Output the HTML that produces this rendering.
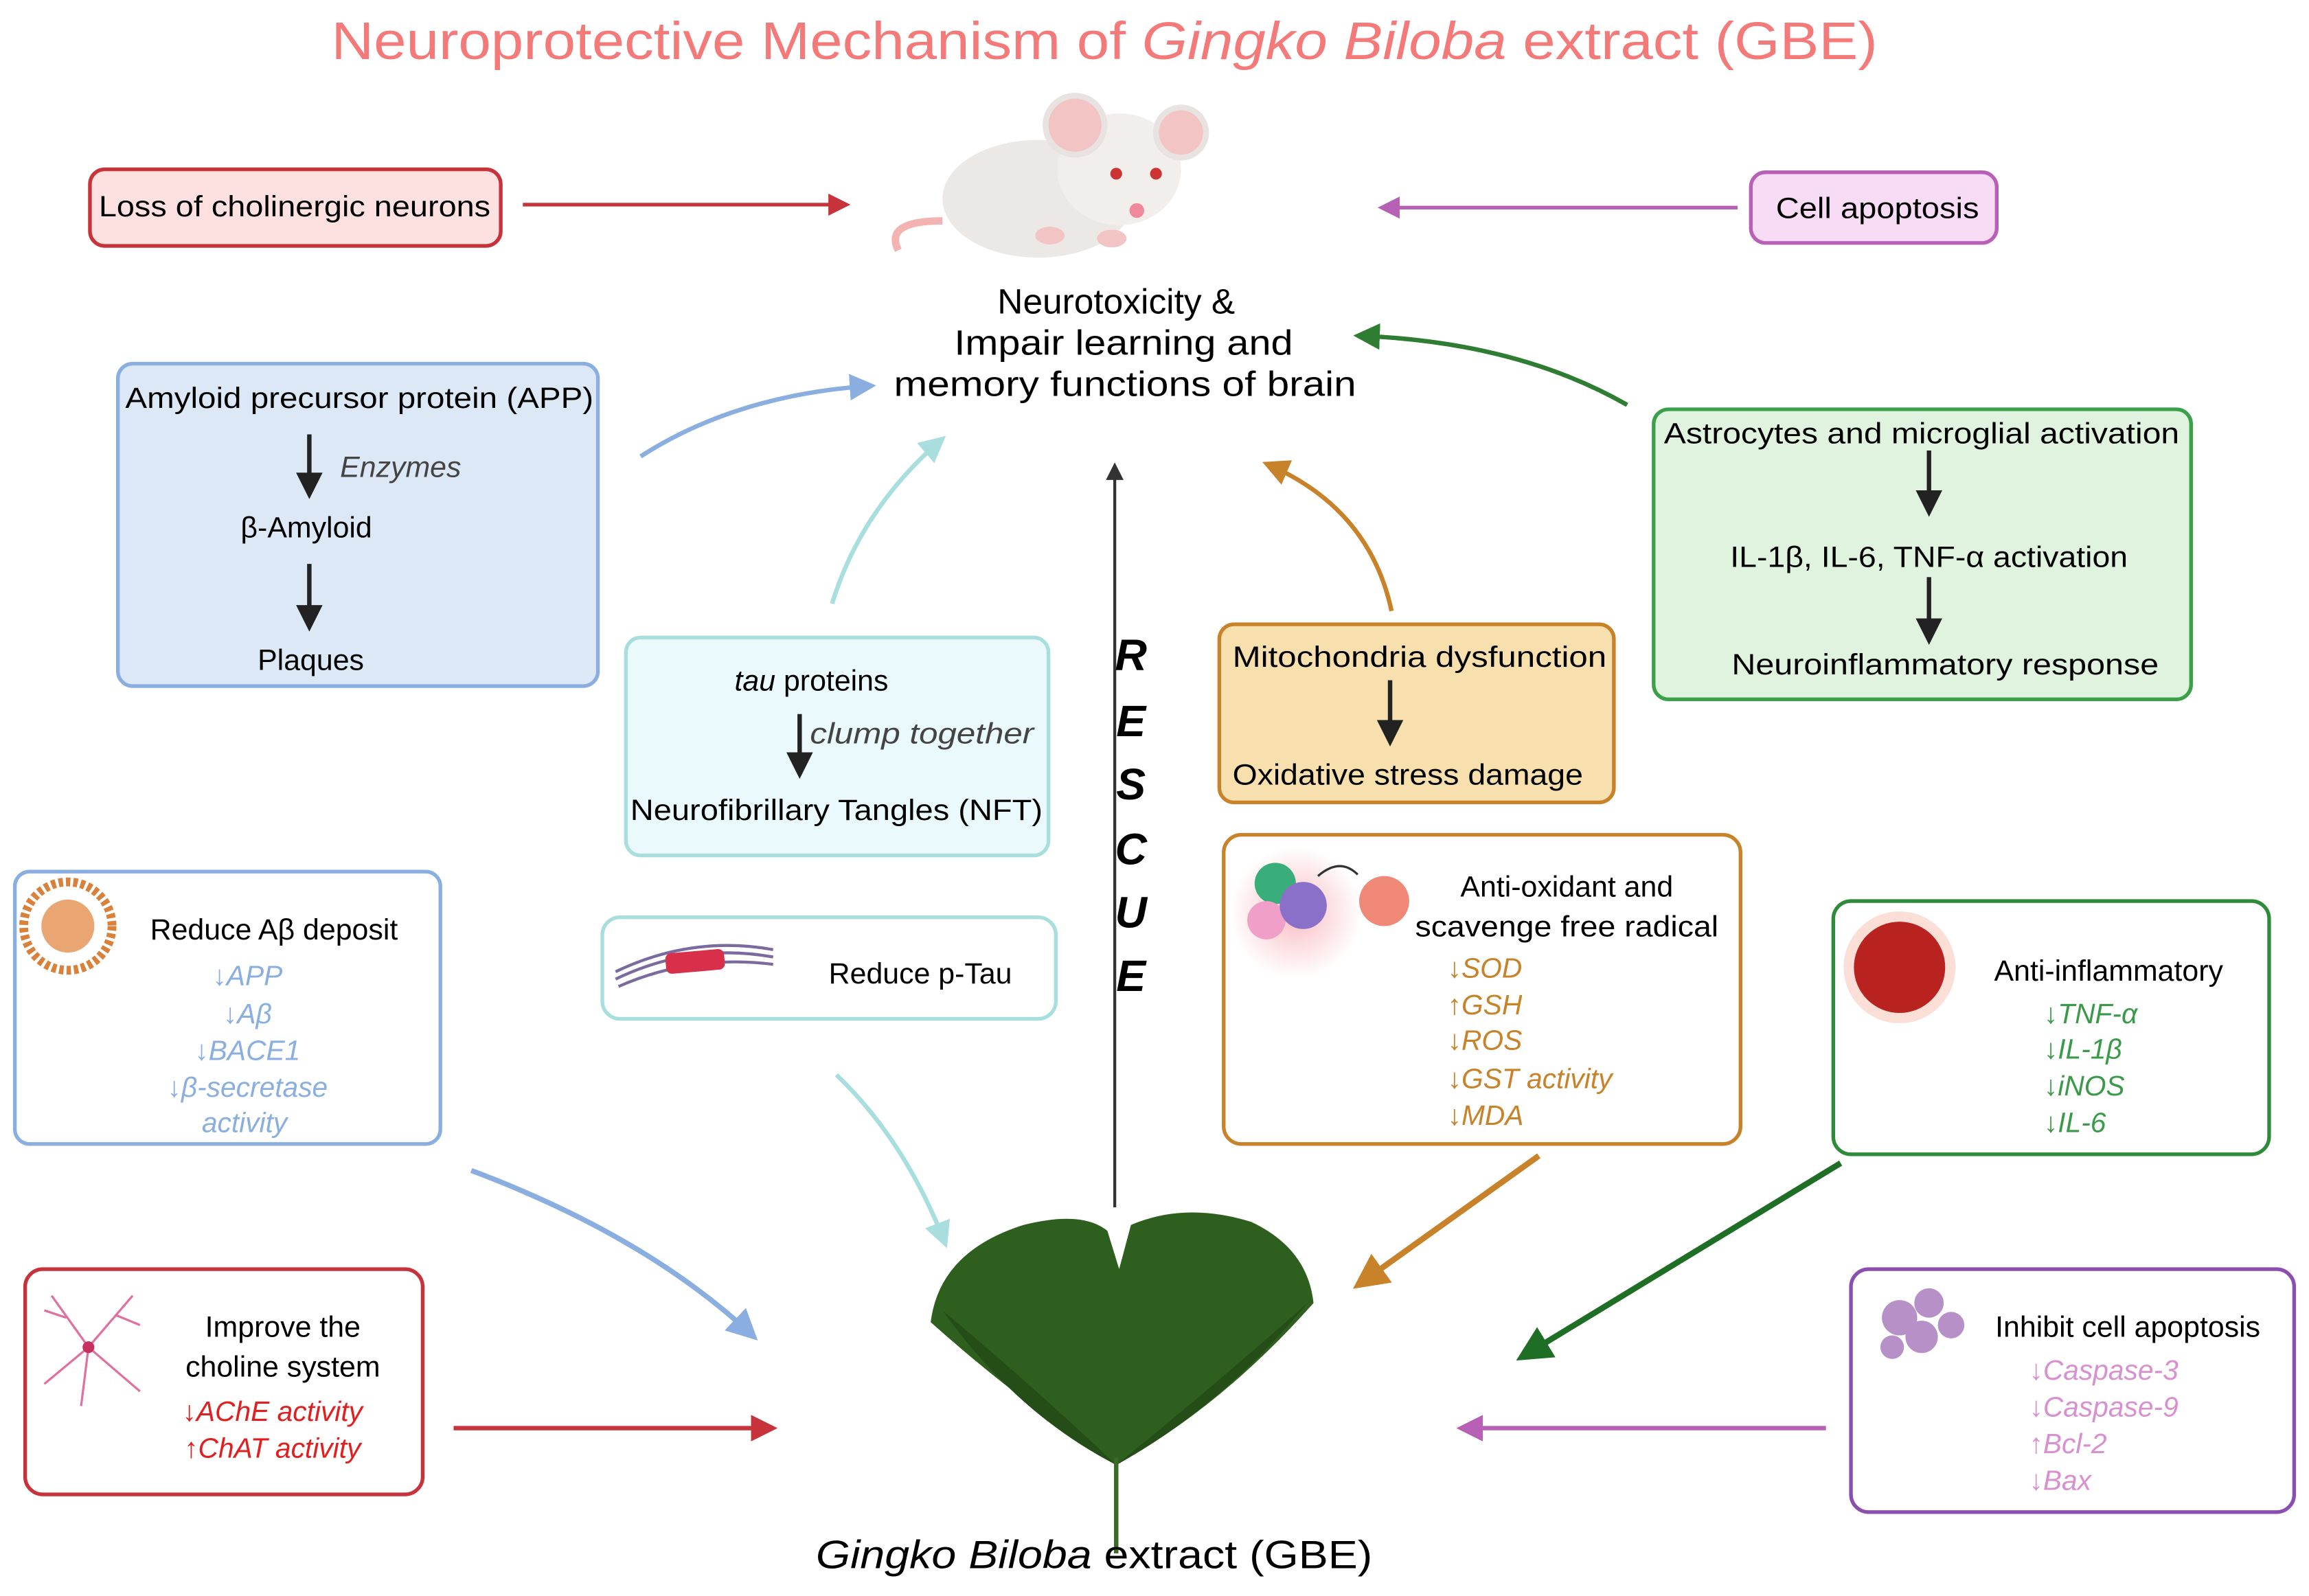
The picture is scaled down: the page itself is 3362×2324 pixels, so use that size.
<!DOCTYPE html>
<html><head><meta charset="utf-8"><style>
html,body{margin:0;padding:0;background:#fff}
svg{display:block}
text{font-family:"Liberation Sans",sans-serif}
</style></head><body>
<svg width="3362" height="2324" viewBox="0 0 1568 1084" xmlns="http://www.w3.org/2000/svg">
<defs>
<marker id="ar" markerWidth="6" markerHeight="6" refX="5" refY="3" orient="auto" markerUnits="strokeWidth"><path d="M0,0 L6,3 L0,6 z" fill="context-stroke"/></marker>
<radialGradient id="glow"><stop offset="0" stop-color="#f7a0a8" stop-opacity=".7"/><stop offset="1" stop-color="#f7a0a8" stop-opacity="0"/></radialGradient>
</defs>
<text x="750" y="40" text-anchor="middle" font-size="36" fill="#f47a7a" textLength="1050" lengthAdjust="spacingAndGlyphs">Neuroprotective Mechanism of <tspan font-style="italic">Gingko Biloba</tspan> extract (GBE)</text>

<!-- mouse -->
<g>
<path d="M610,170 Q600,150 640,150" stroke="#f3b3b3" stroke-width="5" fill="none"/>
<ellipse cx="705" cy="135" rx="65" ry="40" fill="#ece8e6"/>
<ellipse cx="760" cy="115" rx="42" ry="38" fill="#f1eeec"/>
<circle cx="730" cy="85" r="20" fill="#f2c4c4" stroke="#e8e2e0" stroke-width="4"/>
<circle cx="802" cy="90" r="17" fill="#f2c4c4" stroke="#e8e2e0" stroke-width="4"/>
<circle cx="758" cy="118" r="4" fill="#c33"/><circle cx="785" cy="118" r="4" fill="#c33"/>
<circle cx="772" cy="143" r="5" fill="#f08a9a"/>
<ellipse cx="713" cy="160" rx="10" ry="6" fill="#f2c4c4"/><ellipse cx="755" cy="162" rx="10" ry="6" fill="#f2c4c4"/>
</g>

<!-- top boxes -->
<rect x="61" y="115" width="279" height="52" rx="10" fill="#fde0e0" stroke="#c8323a" stroke-width="2.5"/>
<text x="200" y="147" text-anchor="middle" font-size="20" textLength="266" lengthAdjust="spacingAndGlyphs">Loss of cholinergic neurons</text>
<line x1="355" y1="139" x2="575" y2="139" stroke="#c8323a" stroke-width="2.5" marker-end="url(#ar)"/>
<rect x="1189" y="117" width="167" height="48" rx="10" fill="#f8dcf5" stroke="#b860b5" stroke-width="2.5"/>
<text x="1275" y="148" text-anchor="middle" font-size="20" textLength="138" lengthAdjust="spacingAndGlyphs">Cell apoptosis</text>
<line x1="1180" y1="141" x2="938" y2="141" stroke="#b860b5" stroke-width="2.5" marker-end="url(#ar)"/>

<g font-size="24" text-anchor="middle">
<text x="758" y="213">Neurotoxicity &amp;</text>
<text x="763" y="241" textLength="230" lengthAdjust="spacingAndGlyphs">Impair learning and</text>
<text x="764" y="269" textLength="314" lengthAdjust="spacingAndGlyphs">memory functions of brain</text>
</g>

<!-- APP box -->
<rect x="80" y="247" width="326" height="219" rx="10" fill="#dde8f7" stroke="#8aaee0" stroke-width="2.5"/>
<g font-size="20" text-anchor="middle">
<text x="244" y="277" textLength="318" lengthAdjust="spacingAndGlyphs">Amyloid precursor protein (APP)</text>
<text x="272" y="324" font-style="italic" fill="#444">Enzymes</text>
<text x="208" y="365">β-Amyloid</text>
<text x="211" y="455">Plaques</text>
</g>
<line x1="210" y1="295" x2="210" y2="336" stroke="#222" stroke-width="3" marker-end="url(#ar)"/>
<line x1="210" y1="383" x2="210" y2="426" stroke="#222" stroke-width="3" marker-end="url(#ar)"/>

<!-- arrows to center -->
<path d="M435,310 Q500,268 592,262" stroke="#8aaee0" stroke-width="3" fill="none" marker-end="url(#ar)"/>
<path d="M565,410 Q585,345 640,298" stroke="#a8dede" stroke-width="3" fill="none" marker-end="url(#ar)"/>
<line x1="757" y1="820" x2="757" y2="316" stroke="#333" stroke-width="2" marker-end="url(#ar)"/>
<path d="M945,415 Q930,345 860,315" stroke="#c8822a" stroke-width="3" fill="none" marker-end="url(#ar)"/>
<path d="M1105,275 Q1030,232 922,228" stroke="#2e7d32" stroke-width="3" fill="none" marker-end="url(#ar)"/>

<g font-size="30" font-weight="bold" font-style="italic" text-anchor="middle">
<text x="768" y="455">R</text><text x="768" y="500">E</text><text x="768" y="543">S</text>
<text x="768" y="587">C</text><text x="768" y="630">U</text><text x="768" y="673">E</text>
</g>

<!-- green box -->
<rect x="1123" y="278" width="365" height="197" rx="10" fill="#dff3df" stroke="#3aa14a" stroke-width="2.5"/>
<g font-size="20" text-anchor="middle">
<text x="1305" y="301" textLength="350" lengthAdjust="spacingAndGlyphs">Astrocytes and microglial activation</text>
<text x="1310" y="385" textLength="270" lengthAdjust="spacingAndGlyphs">IL-1β, IL-6, TNF-α activation</text>
<text x="1321" y="458" textLength="290" lengthAdjust="spacingAndGlyphs">Neuroinflammatory response</text>
</g>
<line x1="1310" y1="306" x2="1310" y2="348" stroke="#222" stroke-width="3" marker-end="url(#ar)"/>
<line x1="1310" y1="392" x2="1310" y2="435" stroke="#222" stroke-width="3" marker-end="url(#ar)"/>

<!-- tau box -->
<rect x="425" y="433" width="287" height="148" rx="10" fill="#eafafc" stroke="#a8dede" stroke-width="2.5"/>
<g font-size="20" text-anchor="middle">
<text x="551" y="469"><tspan font-style="italic">tau</tspan> proteins</text>
<text x="626" y="505" font-style="italic" fill="#444" textLength="152" lengthAdjust="spacingAndGlyphs">clump together</text>
<text x="568" y="557" textLength="280" lengthAdjust="spacingAndGlyphs">Neurofibrillary Tangles (NFT)</text>
</g>
<line x1="543" y1="485" x2="543" y2="526" stroke="#222" stroke-width="3" marker-end="url(#ar)"/>

<!-- mito box -->
<rect x="828" y="424" width="268" height="121" rx="10" fill="#f8dfae" stroke="#c8822a" stroke-width="2.5"/>
<g font-size="20" text-anchor="middle">
<text x="964" y="453" textLength="254" lengthAdjust="spacingAndGlyphs">Mitochondria dysfunction</text>
<text x="956" y="533" textLength="238" lengthAdjust="spacingAndGlyphs">Oxidative stress damage</text>
</g>
<line x1="944" y1="462" x2="944" y2="504" stroke="#222" stroke-width="3" marker-end="url(#ar)"/>

<!-- Reduce Abeta -->
<rect x="10" y="592" width="289" height="185" rx="10" fill="#fff" stroke="#8aaee0" stroke-width="2.5"/>
<circle cx="46" cy="629" r="30" fill="none" stroke="#d9803a" stroke-width="6" stroke-dasharray="3 2"/>
<circle cx="46" cy="629" r="18" fill="#e49050" opacity=".8"/>
<text x="186" y="638" text-anchor="middle" font-size="20">Reduce Aβ deposit</text>
<g font-size="19" font-style="italic" fill="#8aaee0" text-anchor="middle">
<text x="168" y="669">↓APP</text><text x="168" y="695">↓Aβ</text><text x="168" y="720">↓BACE1</text>
<text x="168" y="745">↓β-secretase</text><text x="166" y="769">activity</text>
</g>

<!-- Reduce p-Tau -->
<rect x="409" y="623" width="308" height="69" rx="12" fill="#fff" stroke="#a8dede" stroke-width="2.5"/>
<path d="M418,665 Q470,640 525,650 M418,660 Q470,635 525,645 M420,670 Q470,648 525,655" stroke="#7a6aa0" stroke-width="2" fill="none"/>
<rect x="452" y="646" width="40" height="14" rx="4" fill="#d8304a" transform="rotate(-5 472 653)"/>
<text x="625" y="668" text-anchor="middle" font-size="20">Reduce p-Tau</text>

<!-- Antioxidant -->
<rect x="831" y="567" width="351" height="210" rx="12" fill="#fff" stroke="#c8822a" stroke-width="2.5"/>
<circle cx="880" cy="620" r="45" fill="url(#glow)"/>
<circle cx="866" cy="600" r="14" fill="#3aae7a"/>
<circle cx="860" cy="625" r="13" fill="#f0a0c8"/>
<circle cx="885" cy="615" r="16" fill="#8a70c8"/>
<circle cx="940" cy="612" r="17" fill="#f08878"/>
<path d="M895,595 Q910,582 922,594" stroke="#333" stroke-width="1.5" fill="none"/>
<g font-size="20" text-anchor="middle">
<text x="1064" y="609">Anti-oxidant and</text>
<text x="1064" y="636" textLength="206" lengthAdjust="spacingAndGlyphs">scavenge free radical</text>
</g>
<g font-size="19" font-style="italic" fill="#c8822a">
<text x="983" y="664">↓SOD</text><text x="983" y="689">↑GSH</text><text x="983" y="713">↓ROS</text>
<text x="983" y="739">↓GST activity</text><text x="983" y="764">↓MDA</text>
</g>

<!-- Anti-inflammatory -->
<rect x="1245" y="612" width="296" height="172" rx="12" fill="#fff" stroke="#2e8b3a" stroke-width="2.5"/>
<circle cx="1290" cy="657" r="38" fill="#f7c0b0" opacity=".5"/>
<circle cx="1290" cy="657" r="31" fill="#b8231f"/>
<text x="1432" y="666" text-anchor="middle" font-size="20">Anti-inflammatory</text>
<g font-size="19" font-style="italic" fill="#3a9a4a">
<text x="1388" y="695">↓TNF-α</text><text x="1388" y="719">↓IL-1β</text><text x="1388" y="744">↓iNOS</text><text x="1388" y="769">↓IL-6</text>
</g>

<!-- Improve choline -->
<rect x="17" y="862" width="270" height="153" rx="12" fill="#fff" stroke="#c8323a" stroke-width="2.5"/>
<g stroke="#e070a0" stroke-width="1.5" fill="none">
<path d="M60,915 L35,880 M60,915 L90,880 M60,915 L30,940 M60,915 L95,945 M60,915 L55,955 M45,895 L30,890 M78,893 L95,900"/>
</g>
<circle cx="60" cy="915" r="4" fill="#c83060"/>
<g font-size="20" text-anchor="middle">
<text x="192" y="908">Improve the</text><text x="192" y="935">choline system</text>
</g>
<g font-size="19" font-style="italic" fill="#e02020" text-anchor="middle">
<text x="185" y="965">↓AChE activity</text><text x="185" y="990">↑ChAT activity</text>
</g>

<!-- Inhibit apoptosis -->
<rect x="1257" y="862" width="301" height="165" rx="12" fill="#fff" stroke="#8b4fb0" stroke-width="2.5"/>
<g fill="#b890c8"><circle cx="1290" cy="895" r="12"/><circle cx="1310" cy="885" r="10"/><circle cx="1305" cy="908" r="11"/><circle cx="1325" cy="900" r="9"/><circle cx="1285" cy="915" r="8"/></g>
<text x="1445" y="908" text-anchor="middle" font-size="20">Inhibit cell apoptosis</text>
<g font-size="19" font-style="italic" fill="#d890d0">
<text x="1378" y="937">↓Caspase-3</text><text x="1378" y="962">↓Caspase-9</text><text x="1378" y="987">↑Bcl-2</text><text x="1378" y="1012">↓Bax</text>
</g>

<!-- arrows to leaf -->
<path d="M320,795 Q440,840 512,908" stroke="#8aaee0" stroke-width="3.5" fill="none" marker-end="url(#ar)"/>
<path d="M568,730 Q615,775 642,845" stroke="#a8dede" stroke-width="3" fill="none" marker-end="url(#ar)"/>
<line x1="1045" y1="785" x2="922" y2="873" stroke="#c8822a" stroke-width="4" marker-end="url(#ar)"/>
<line x1="1250" y1="790" x2="1033" y2="922" stroke="#1f6e25" stroke-width="4" marker-end="url(#ar)"/>
<line x1="308" y1="970" x2="525" y2="970" stroke="#c8323a" stroke-width="3" marker-end="url(#ar)"/>
<line x1="1240" y1="970" x2="992" y2="970" stroke="#b860b5" stroke-width="3" marker-end="url(#ar)"/>

<!-- leaf -->
<path d="M758,995 Q690,950 632,898 Q638,850 695,832 Q735,822 752,836 L760,862 L768,832 Q805,816 850,830 Q888,848 892,885 Q830,955 758,995 Z" fill="#2f5f1e"/>
<path d="M758,995 Q700,940 640,890 Q690,960 758,995 Q830,955 888,885 Q820,945 758,995 Z" fill="#254d17"/>
<path d="M758,990 L758,1055" stroke="#3a6a25" stroke-width="3"/>

<text x="743" y="1065" text-anchor="middle" font-size="27" textLength="378" lengthAdjust="spacingAndGlyphs"><tspan font-style="italic">Gingko Biloba</tspan> extract (GBE)</text>
</svg>
</body></html>
